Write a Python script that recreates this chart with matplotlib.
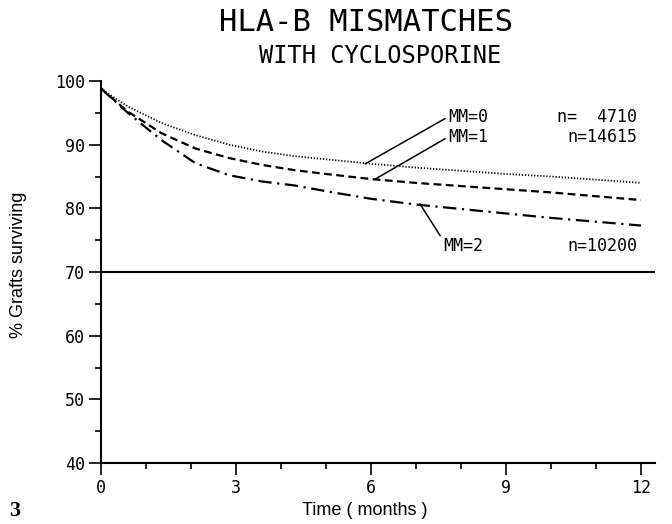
import matplotlib
matplotlib.use('Agg')
import matplotlib.pyplot as plt

# survival curves (time in months, % grafts surviving)
months = [0, 0.1, 0.6, 1.35, 2.1, 2.85, 3.6, 4.3, 5, 6, 7, 8, 9, 10, 11, 12]
mm0 = [98.9, 98.3, 96.0, 93.4, 91.5, 90.0, 88.9, 88.2, 87.7, 87.0, 86.4, 85.9, 85.4, 85.0, 84.5, 84.0]
mm1 = [98.9, 98.2, 95.2, 91.8, 89.4, 87.9, 86.8, 86.0, 85.4, 84.6, 84.0, 83.5, 83.0, 82.5, 81.9, 81.3]
mm2 = [98.9, 98.2, 95.0, 90.7, 87.1, 85.2, 84.2, 83.6, 82.7, 81.5, 80.6, 79.9, 79.2, 78.5, 77.9, 77.3]

labels = ['MM=0', 'MM=1', 'MM=2']
counts = ['n=  4710', 'n=14615', 'n=10200']

xticks = [0, 3, 6, 9, 12]
yticks = [40, 50, 60, 70, 80, 90, 100]

plotter = ['DejaVu Sans Mono']

fig = plt.figure(figsize=(6.72, 5.24), dpi=100)
ax = fig.add_axes([0.150, 0.1164, 0.824, 0.729])

ax.plot(months, mm0, color='black', lw=1.3, linestyle=(0, (0.7, 1.0)))
ax.plot(months, mm1, color='black', lw=1.6, linestyle=(0, (3.5, 2)))
ax.plot(months, mm2, color='black', lw=1.6, linestyle=(0, (6, 2.5, 1, 2.5)))

# reference line at 70 %
ax.axhline(70, color='black', lw=1.5)

ax.set_xlim(0, 12.3)
ax.set_ylim(40, 100)
for s in ['top', 'right']:
    ax.spines[s].set_visible(False)
for s in ['left', 'bottom']:
    ax.spines[s].set_linewidth(1.5)

ax.set_xticks(xticks)
ax.set_xticks(range(0, 13), minor=True)
ax.set_yticks(yticks)
ax.set_yticks(range(45, 100, 10), minor=True)
ax.tick_params(which='major', length=8.5, width=1.2, direction='out', pad=3)
ax.tick_params(which='minor', length=4.5, width=1.2, direction='out')
ax.set_xticklabels([str(v) for v in xticks], family=plotter, fontsize=12)
ax.set_yticklabels([str(v) for v in yticks], family=plotter, fontsize=12)

# curve labels with leader lines
ax.annotate(labels[0], xy=(5.87, 86.97), xytext=(7.71, 94.35), family=plotter,
            fontsize=12, va='center', ha='left',
            arrowprops=dict(arrowstyle='-', color='black', lw=1.1, shrinkA=0, shrinkB=0,
                            relpos=(0, 0.5)))
ax.annotate(labels[1], xy=(6.09, 84.57), xytext=(7.71, 91.2), family=plotter,
            fontsize=12, va='center', ha='left',
            arrowprops=dict(arrowstyle='-', color='black', lw=1.1, shrinkA=0, shrinkB=0,
                            relpos=(0, 0.5)))
ax.annotate(labels[2], xy=(7.09, 80.69), xytext=(7.6, 74.1), family=plotter,
            fontsize=12, va='center', ha='left',
            arrowprops=dict(arrowstyle='-', color='black', lw=1.1, shrinkA=0, shrinkB=0,
                            relpos=(-0.05, 1.0)))
ax.text(11.91, 94.35, counts[0], family=plotter, fontsize=12, va='center', ha='right')
ax.text(11.91, 91.2, counts[1], family=plotter, fontsize=12, va='center', ha='right')
ax.text(11.91, 74.1, counts[2], family=plotter, fontsize=12, va='center', ha='right')

fig.text(0.545, 0.958, 'HLA-B MISMATCHES', family=plotter, fontsize=22,
         ha='center', va='center')
fig.text(0.565, 0.893, 'WITH CYCLOSPORINE', family=plotter, fontsize=17,
         ha='center', va='center')
fig.text(0.027, 0.494, '% Grafts surviving', family='Liberation Sans', fontsize=13,
         rotation=90, ha='center', va='center')
fig.text(0.543, 0.025, 'Time ( months )', family='Liberation Sans', fontsize=13,
         ha='center', va='center')
fig.text(0.022, 0.025, '3', family='Liberation Serif', fontweight='bold', fontsize=16,
         ha='center', va='center')

plt.savefig('out.png', dpi=100)
